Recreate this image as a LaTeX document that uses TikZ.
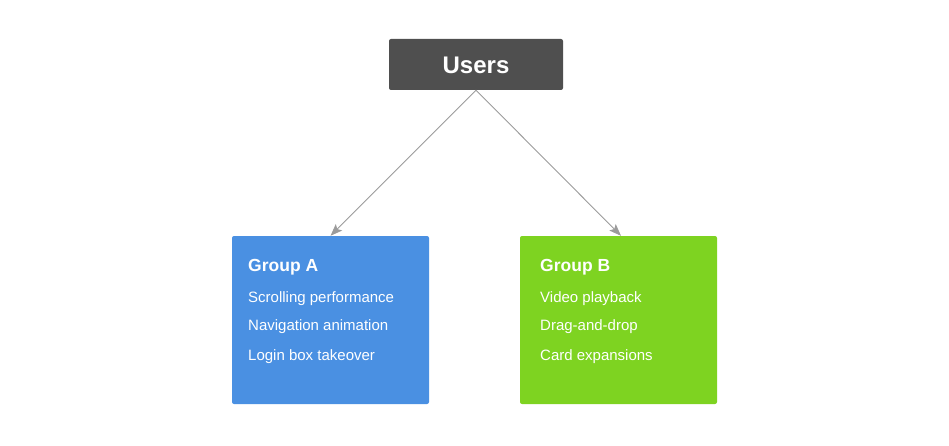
\documentclass[tikz,border=0pt]{standalone}
\usepackage{fontspec}
\setmainfont{Liberation Sans}
\usetikzlibrary{arrows.meta}
\definecolor{usersgray}{HTML}{4F4F4F}
\definecolor{groupblue}{HTML}{4A90E2}
\definecolor{groupgreen}{HTML}{7ED321}
\definecolor{linegray}{HTML}{9B9B9B}
\tikzset{
  box/.style={rounded corners=2pt, draw=none, inner sep=0pt},
  title/.style={anchor=base west, inner sep=0pt, text=white, font=\fontsize{17.5}{20}\selectfont\bfseries},
  item/.style={anchor=base west, inner sep=0pt, text=white, font=\fontsize{15}{18}\selectfont},
  conn/.style={draw=linegray, line width=0.9pt, -{Stealth[length=12pt,width=9pt,inset=2.5pt]}}
}
\begin{document}
\begin{tikzpicture}[x=1pt,y=-1pt]
\useasboundingbox (0,0) rectangle (949,446);
\node[box, fill=usersgray, minimum width=174pt, minimum height=51pt] (users) at (476,64.5) {};
\node[anchor=base, inner sep=0pt, text=white, font=\fontsize{24}{28}\selectfont\bfseries] (userst) at (476,74) {Users};
\node[box, fill=groupblue, minimum width=197pt, minimum height=168pt] (ga) at (330.5,320) {};
\node[box, fill=groupgreen, minimum width=197pt, minimum height=168pt] (gb) at (618.5,320) {};
\node[title] (gat) at (248,271) {Group A};
\node[item] (ga1) at (248,302.5) {Scrolling performance};
\node[item] (ga2) at (248,330.5) {Navigation animation};
\node[item] (ga3) at (248,360) {Login box takeover};
\node[title] (gbt) at (540,271) {Group B};
\node[item] (gb1) at (540,302.5) {Video playback};
\node[item] (gb2) at (540,330.5) {Drag-and-drop};
\node[item] (gb3) at (540,360) {Card expansions};
\draw[conn] (users.south) -- (ga.north);
\draw[conn] (users.south) -- ([xshift=2.5pt]gb.north);
\end{tikzpicture}
\end{document}
